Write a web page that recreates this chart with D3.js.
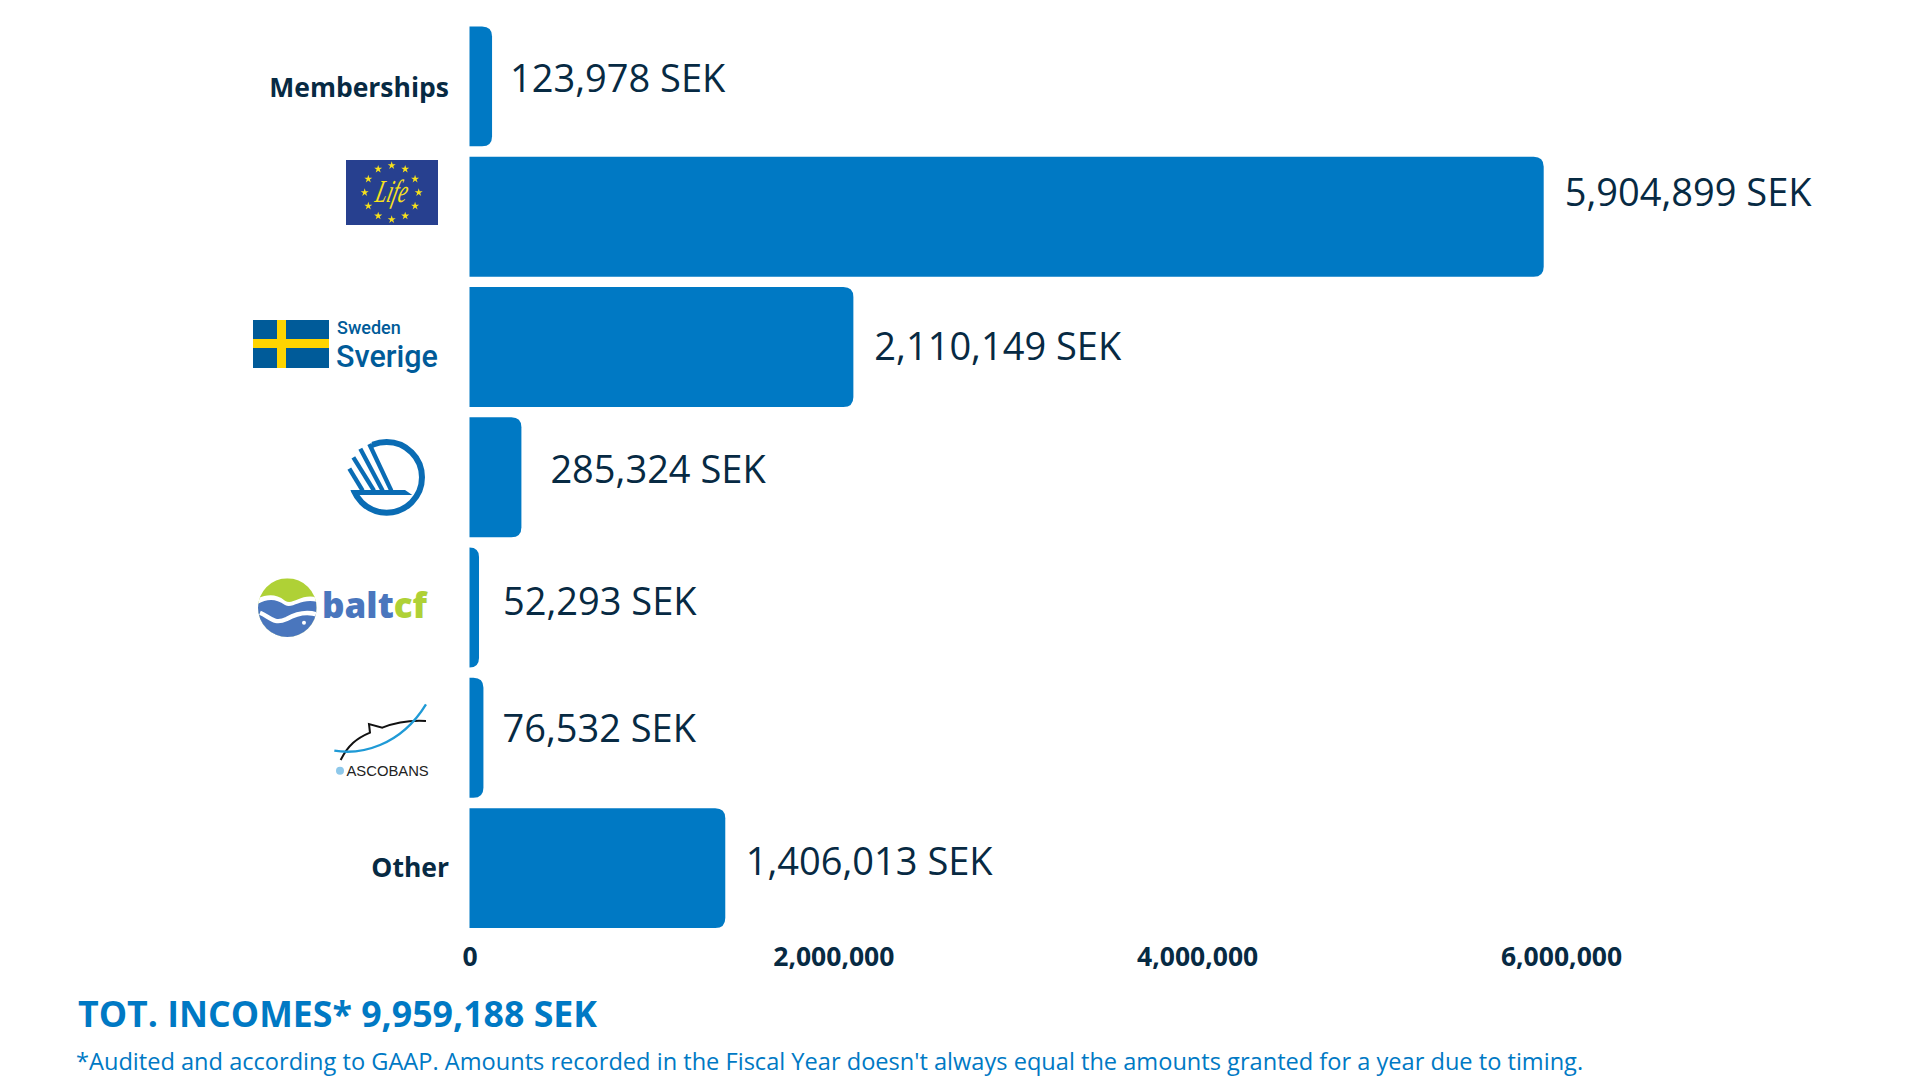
<!DOCTYPE html>
<html>
<head>
<meta charset="utf-8">
<script src="https://cdn.jsdelivr.net/npm/d3@7"></script>
<style>
  html, body { margin: 0; background: #fff; }
  text { font-family: "Open Sans", sans-serif; }
  .axis .domain, .axis line { display: none; }
  .axis text { font-size: 26.5px; font-weight: 700; fill: #072a43; font-family: "Open Sans", sans-serif; }
  .bar { fill: #0079c4; }
  .value { font-size: 38px; fill: #072a43; }
</style>
</head>
<body>
<div id="chart"></div>
<script>
var categories = ["Memberships", "EU Life", "Sweden", "Nordic Council", "BaltCF", "ASCOBANS", "Other"],
    values = [123978, 5904899, 2110149, 285324, 52293, 76532, 1406013],
    namedCategories = ["Memberships", "Other"],
    xTicks = [0, 2000000, 4000000, 6000000],
    totalText = "TOT. INCOMES* 9,959,188 SEK",
    noteText = "*Audited and according to GAAP. Amounts recorded in the Fiscal Year doesn't always equal the amounts granted for a year due to timing.";

// the value labels were placed by hand in the original, so they don't line up
var labelDx = [18, 21, 21, 29, 24, 19, 20.5],
    labelDy = [-7.5, -24, 0, -8, -6, -9, -6];

var svg = d3.select("#chart").append("svg")
    .attr("width", 1920)
    .attr("height", 1080);

var fmt = d3.format(",");

// scales
var x = d3.scaleLinear()
    .domain([0, 6000000])
    .range([469.5, 1561]);
var y = d3.scaleBand()
    .domain(categories)
    .range([26.5, 928])
    .paddingInner(0.08);

// bars, only the right corners are round
function barPath(v, c) {
    var x0 = x(0), x1 = x(v), y0 = y(c), h = y.bandwidth(),
        r = Math.min(10, x1 - x0);
    return "M" + x0 + "," + y0 +
        "H" + (x1 - r) +
        "Q" + x1 + "," + y0 + " " + x1 + "," + (y0 + r) +
        "V" + (y0 + h - r) +
        "Q" + x1 + "," + (y0 + h) + " " + (x1 - r) + "," + (y0 + h) +
        "H" + x0 + "Z";
}

svg.append("g").selectAll(".bar")
    .data(categories)
    .enter().append("path")
    .attr("class", "bar")
    .attr("d", function (d, i) { return barPath(values[i], d); });

svg.append("g").selectAll(".value")
    .data(categories)
    .enter().append("text")
    .attr("class", "value")
    .attr("x", function (d, i) { return x(values[i]) + labelDx[i]; })
    .attr("y", function (d, i) { return y(d) + y.bandwidth() / 2 + labelDy[i]; })
    .attr("dy", "0.35em")
    .text(function (d, i) { return fmt(values[i]) + " SEK"; });

// axes
svg.append("g")
    .attr("class", "x axis")
    .attr("transform", "translate(0,928)")
    .call(d3.axisBottom(x).tickValues(xTicks).tickSize(0).tickPadding(19).tickFormat(fmt));

svg.append("g")
    .attr("class", "y axis")
    .attr("transform", "translate(470,0)")
    .call(d3.axisLeft(y).tickSize(0).tickPadding(21)
        .tickFormat(function (d) { return namedCategories.indexOf(d) >= 0 ? d : ""; }));

// Memberships sits a little lower than Other in the original
svg.selectAll(".y.axis .tick text")
    .filter(function (d) { return d === "Memberships"; })
    .attr("dy", "0.38em");

// totals
svg.append("text")
    .attr("x", 78).attr("y", 1027)
    .attr("font-size", 35.7).attr("font-weight", 700).attr("fill", "#0079c4")
    .text(totalText);
svg.append("text")
    .attr("x", 76).attr("y", 1070)
    .attr("font-size", 23.6).attr("fill", "#0079c4")
    .text(noteText);

// --- logos standing in for the other category names ---

// EU Life
var life = svg.append("g");
life.append("rect")
    .attr("x", 346).attr("y", 160).attr("width", 92).attr("height", 65)
    .attr("fill", "#27408f");
var star = d3.symbol().type(d3.symbolStar).size(20);
life.selectAll(".star")
    .data(d3.range(12))
    .enter().append("path")
    .attr("d", star)
    .attr("fill", "#f7e11c")
    .attr("transform", function (d) {
        var a = d * Math.PI / 6;
        return "translate(" + (391.7 + 27 * Math.sin(a)) + "," + (192.5 - 27 * Math.cos(a)) + ")";
    });
life.append("text")
    .attr("transform", "translate(374,202) skewX(-14) scale(0.72,1.15)")
    .style("font-family", "Liberation Serif")
    .style("font-style", "italic")
    .attr("font-size", 28)
    .attr("fill", "#f7e11c")
    .text("Life");

// Sweden
var sweden = svg.append("g");
sweden.append("rect").attr("x", 253).attr("y", 320).attr("width", 76).attr("height", 48).attr("fill", "#005b99");
sweden.append("rect").attr("x", 277).attr("y", 320).attr("width", 9).attr("height", 48).attr("fill", "#ffd400");
sweden.append("rect").attr("x", 253).attr("y", 339).attr("width", 76).attr("height", 9).attr("fill", "#ffd400");
sweden.append("text").attr("x", 337).attr("y", 334)
    .style("font-family", "Roboto").attr("font-size", 18).attr("font-weight", 500).attr("fill", "#005b99")
    .text("Sweden");
sweden.append("text").attr("x", 336).attr("y", 366.5)
    .style("font-family", "Roboto").attr("font-size", 30.5).attr("font-weight", 500).attr("fill", "#005b99")
    .text("Sverige");

// Nordic swan, drawn in zoomed-in coordinates
var swan = svg.append("g").attr("transform", "translate(220,290) scale(0.3333)");
swan.append("circle")
    .attr("cx", 500).attr("cy", 562).attr("r", 106)
    .attr("fill", "none").attr("stroke", "#0a6cb4").attr("stroke-width", 18);
swan.append("path")
    .attr("d", "M370,440L455,440L455,480L500,600L380,600Z")
    .attr("fill", "#fff");
swan.selectAll(".wing")
    .data(["M448,462L514,602", "M421,476L488,602", "M400,502L462,602", "M388,536L428,602"])
    .enter().append("path")
    .attr("d", function (d) { return d; })
    .attr("stroke", "#0a6cb4").attr("stroke-width", 13).attr("fill", "none");
swan.append("path")
    .attr("d", "M392,600L555,600L577,615L408,615Z")
    .attr("fill", "#0a6cb4");

// baltcf
var balt = svg.append("g").attr("transform", "translate(220,550) scale(0.3333)");
balt.append("clipPath").attr("id", "baltClip").append("path")
    .attr("d", "M114,173A88,88 0 1 1 290,173A88,88 0 1 1 114,173Z");
var baltInner = balt.append("g").attr("clip-path", "url(#baltClip)");
baltInner.append("rect").attr("x", 100).attr("y", 80).attr("width", 200).attr("height", 190).attr("fill", "#afd136");
baltInner.append("path")
    .attr("d", "M100,150C130,138 160,125 195,152C220,168 245,125 300,145V280H100Z")
    .attr("fill", "#fff");
baltInner.append("path")
    .attr("d", "M100,170C130,150 160,140 195,165C220,178 245,140 300,158V280H100Z")
    .attr("fill", "#4a76bd");
baltInner.append("path")
    .attr("d", "M120,188C150,200 160,225 200,207C230,190 260,182 295,195")
    .attr("stroke", "#fff").attr("stroke-width", 13).attr("fill", "none");
balt.append("circle").attr("cx", 252).attr("cy", 218).attr("r", 6).attr("fill", "#fff");
var baltText = svg.append("text")
    .attr("x", 322).attr("y", 618)
    .attr("font-size", 35).attr("font-weight", 800);
baltText.append("tspan").attr("fill", "#4a76bd").text("balt");
baltText.append("tspan").attr("fill", "#afd136").text("cf");

// ASCOBANS
var asco = svg.append("g").attr("transform", "translate(220,550) scale(0.3333)");
asco.append("path")
    .attr("d", "M362,630C385,585 410,565 450,548L447,522L487,533C520,520 570,510 618,513")
    .attr("stroke", "#111").attr("stroke-width", 6).attr("fill", "none");
asco.append("path")
    .attr("d", "M343,602C420,615 540,590 618,463")
    .attr("stroke", "#1f9ad6").attr("stroke-width", 7).attr("fill", "none");
asco.append("circle").attr("cx", 360).attr("cy", 662).attr("r", 12).attr("fill", "#8ec8ea");
svg.append("text")
    .attr("x", 346.5).attr("y", 776)
    .style("font-family", "Liberation Sans").attr("font-size", 14.8).attr("fill", "#222")
    .text("ASCOBANS");
</script>
</body>
</html>
